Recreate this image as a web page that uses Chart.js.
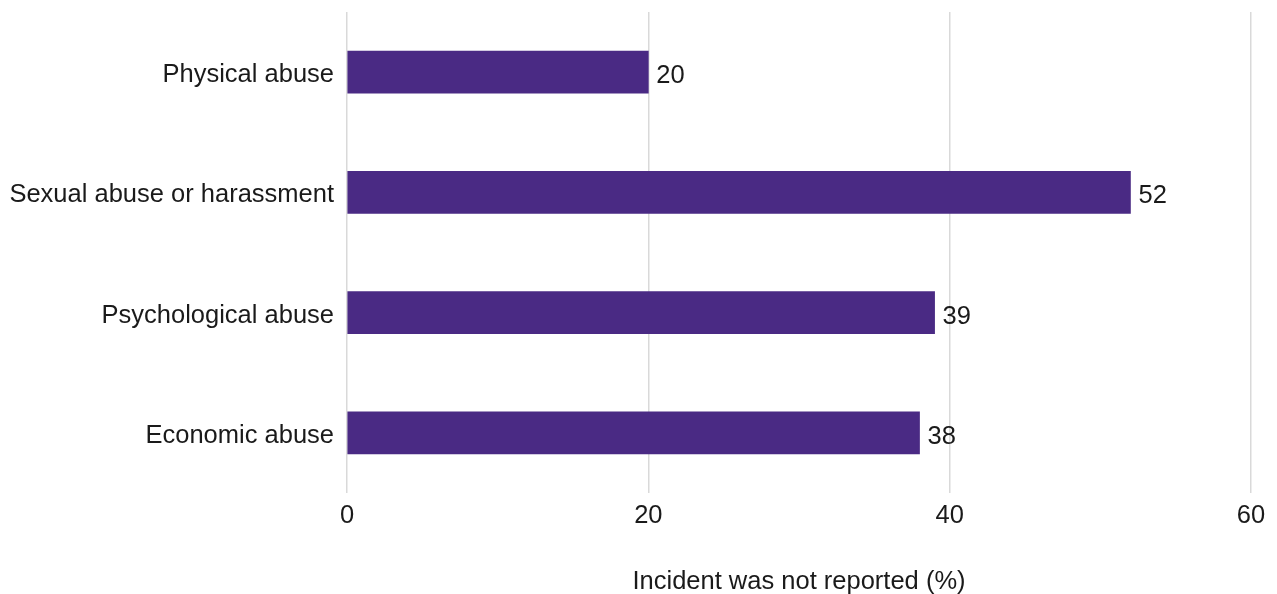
<!DOCTYPE html>
<html>
<head>
<meta charset="utf-8">
<script src="https://cdn.jsdelivr.net/npm/chart.js@4"></script>
<style>
  html, body { margin: 0; padding: 0; background: #fff; }
  #wrap { width: 1277px; height: 594px; position: relative; }
</style>
</head>
<body>
<div id="wrap"><canvas id="abuse-chart"></canvas></div>
<script>
/* =================================
  data
==================================== */
const categories = ['Physical abuse', 'Sexual abuse or harassment', 'Psychological abuse', 'Economic abuse'];
const notReported = [20, 52, 39, 38];
const xTicks = [0, 20, 40, 60];

const barColor = '#4a2a84';
const textColor = '#1a1a1a';
const fontFamily = '"Liberation Sans", Arial, sans-serif';
const fontSize = 25.5;

/* =================================
  value labels at the end of each bar
==================================== */
const valueLabels = {
    id: 'valueLabels',
    afterDatasetsDraw(chart) {
        const ctx = chart.ctx;
        const meta = chart.getDatasetMeta(0);
        ctx.save();
        ctx.font = fontSize + 'px ' + fontFamily;
        ctx.fillStyle = textColor;
        ctx.textAlign = 'left';
        ctx.textBaseline = 'middle';
        meta.data.forEach((bar, i) => {
            ctx.fillText(String(notReported[i]), bar.x + 8, bar.y + 4);
        });
        ctx.restore();
    }
};

/* =================================
  chart
==================================== */
const abuseChart = new Chart(document.getElementById('abuse-chart'), {
    type: 'bar',
    data: {
        labels: categories,
        datasets: [{
            data: notReported,
            backgroundColor: barColor,
            barThickness: 42,
            borderWidth: 0
        }]
    },
    options: {
        indexAxis: 'y',
        responsive: true,
        maintainAspectRatio: false,
        animation: false,
        layout: {
            padding: { top: 12, right: 26, left: 0, bottom: 0 }
        },
        plugins: {
            legend: { display: false },
            tooltip: { enabled: false }
        },
        scales: {
            x: {
                min: 0,
                max: 60,
                afterBuildTicks(axis) {
                    axis.ticks = xTicks.map(v => ({ value: v }));
                },
                afterFit(axis) {
                    axis.height = 101;
                },
                border: { display: false },
                grid: {
                    color: '#d9d9d9',
                    lineWidth: 1.5,
                    drawTicks: false
                },
                ticks: {
                    color: textColor,
                    font: { size: fontSize, family: fontFamily },
                    padding: 8
                },
                title: {
                    display: true,
                    text: 'Incident was not reported (%)',
                    color: textColor,
                    font: { size: fontSize, family: fontFamily },
                    padding: { top: 37, bottom: -3 }
                }
            },
            y: {
                afterFit(axis) {
                    axis.width = 347;
                    axis.paddingTop = 0;
                    axis.paddingBottom = 0;
                },
                border: { display: false },
                grid: { display: false, drawTicks: false },
                ticks: {
                    color: textColor,
                    font: { size: fontSize, family: fontFamily },
                    padding: 13,
                    labelOffset: 3
                }
            }
        }
    },
    plugins: [valueLabels]
});
</script>
</body>
</html>
